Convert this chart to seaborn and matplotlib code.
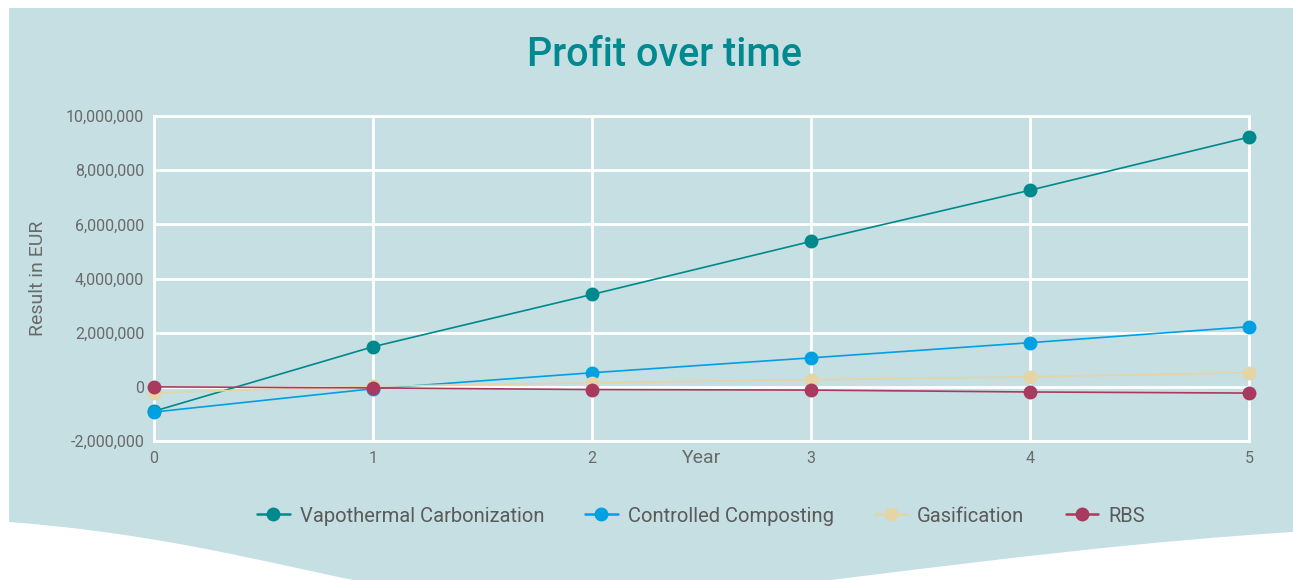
import numpy as np
import pandas as pd
import matplotlib
matplotlib.use("Agg")
import matplotlib.pyplot as plt
from matplotlib.path import Path
from matplotlib.patches import PathPatch
from matplotlib.lines import Line2D
from matplotlib.ticker import FuncFormatter
import seaborn as sns

years = [0, 1, 2, 3, 4, 5]
series_names = ["Vapothermal Carbonization", "Controlled Composting", "Gasification", "RBS"]
vapothermal = [-900000, 1480000, 3410000, 5370000, 7260000, 9220000]
composting = [-930000, -70000, 520000, 1070000, 1630000, 2220000]
gasification = [-220000, 20000, 150000, 260000, 370000, 520000]
rbs = [0, -40000, -100000, -120000, -190000, -230000]
colors = ["#00898C", "#00A0E3", "#E5D4A6", "#A93A5F"]
y_ticks = [-2000000, 0, 2000000, 4000000, 6000000, 8000000, 10000000]

BG = "#C5DFE3"
W, H = 1293, 580

sns.set_theme(style="white")
plt.rcParams["font.family"] = ["Roboto", "DejaVu Sans"]

df = pd.DataFrame({
    "Year": years * 4,
    "Value": vapothermal + composting + gasification + rbs,
    "Series": sum([[n] * len(years) for n in series_names], []),
})

fig = plt.figure(figsize=(W / 100, H / 100), dpi=100, facecolor="white")

# background panel with curved bottom
def fp(x, y):
    return (x / W, 1 - y / H)

verts = [fp(9, 8), fp(1293, 8), fp(1293, 532),
         fp(1000, 550), fp(700, 605), fp(560, 605),
         fp(380, 605), fp(250, 540), fp(9, 522),
         fp(9, 8)]
codes = [Path.MOVETO, Path.LINETO, Path.LINETO,
         Path.CURVE4, Path.CURVE4, Path.CURVE4,
         Path.CURVE4, Path.CURVE4, Path.CURVE4,
         Path.CLOSEPOLY]
fig.patches.append(PathPatch(Path(verts, codes), transform=fig.transFigure,
                             facecolor=BG, edgecolor="none", zorder=-5))

ax = fig.add_axes([154 / W, 1 - 441 / H, (1249 - 154) / W, (441 - 116) / H])
ax.set_zorder(2)
ax.set_facecolor("none")

sns.lineplot(data=df, x="Year", y="Value", hue="Series", hue_order=series_names,
             palette=colors, marker="o", markersize=10, markeredgewidth=0,
             linewidth=1.2, ax=ax, legend=False, zorder=3)

ax.set_xlim(0, 5)
ax.set_ylim(-2000000, 10000000)
ax.set_xticks(years)
ax.set_yticks(y_ticks)
ax.yaxis.set_major_formatter(FuncFormatter(lambda v, p: f"{int(v):,}"))
ax.grid(True, color="white", linewidth=2, zorder=1)
ax.set_axisbelow(True)
for s in ax.spines.values():
    s.set_color("white")
    s.set_linewidth(2)
ax.tick_params(axis="both", length=0, labelsize=11.5, labelcolor="#6A6A6A")
ax.tick_params(axis="x", pad=7)
ax.tick_params(axis="y", pad=7)
for m in ax.lines:
    m.set_clip_on(False)

ax.set_xlabel("Year", fontsize=14, color="#6A6A6A")
ax.xaxis.set_label_coords(0.5, -0.025)
ax.set_ylabel("Result in EUR", fontsize=14, color="#6A6A6A")
ax.yaxis.set_label_coords(-0.098, 0.5)

fig.text(664 / W, 1 - 55 / H, "Profit over time", ha="center", va="center",
         fontsize=28.5, fontweight="medium", color="#00898F")

handles = [Line2D([0], [0], color=c, marker="o", markersize=10, markeredgewidth=0,
                  linewidth=1.8) for c in colors]
leg = fig.legend(handles, series_names, loc="center", bbox_to_anchor=(701 / W, 1 - 516 / H),
                 ncol=4, frameon=False, fontsize=14.5, labelcolor="#5A5A5A",
                 handlelength=1.6, handletextpad=0.5, columnspacing=2.05)

fig.savefig("out.png", dpi=100, facecolor="white")
